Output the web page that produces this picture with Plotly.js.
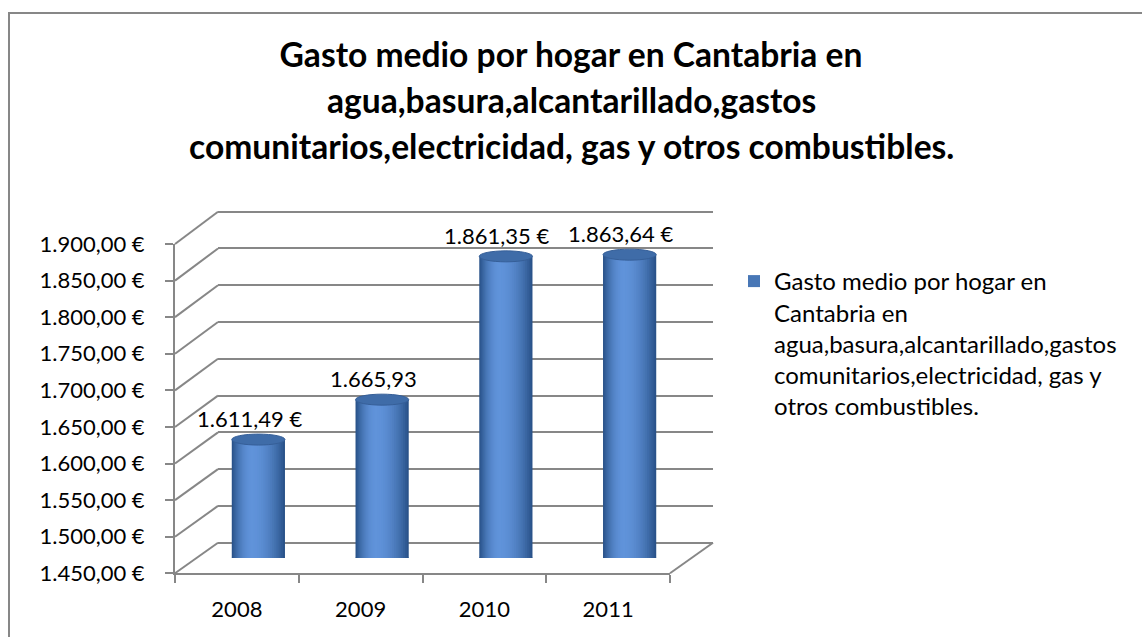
<!DOCTYPE html>
<html>
<head>
<meta charset="utf-8">
<script src="https://cdn.plot.ly/plotly-3.0.1.min.js"></script>
<style>html,body{margin:0;padding:0;background:#fff;}#chart{width:1142px;height:637px;}</style>
</head>
<body>
<div id="chart"></div>
<script>
// ---- data ----
const years = ['2008', '2009', '2010', '2011'];
const gasto = [1611.49, 1665.93, 1861.35, 1863.64];
const dataLabels = ['1.611,49 €', '1.665,93', '1.861,35 €', '1.863,64 €'];
const yTickVals = [1450, 1500, 1550, 1600, 1650, 1700, 1750, 1800, 1850, 1900];
const yTickText = ['1.450,00 €', '1.500,00 €', '1.550,00 €', '1.600,00 €', '1.650,00 €',
                   '1.700,00 €', '1.750,00 €', '1.800,00 €', '1.850,00 €', '1.900,00 €'];
const seriesName = 'Gasto medio por hogar en<br>Cantabria en<br>agua,basura,alcantarillado,gastos<br>comunitarios,electricidad, gas y<br>otros combustibles.';
const titleLines = ['Gasto medio por hogar en Cantabria en',
                    'agua,basura,alcantarillado,gastos',
                    'comunitarios,electricidad, gas y otros combustibles.'];

// ---- geometry (pixels) ----
const W = 1142, H = 637;
const FRONT = {x0: 175, x1: 670, yt: 244, yb: 573.3};
const BACK  = {x0: 218, x1: 713, yt: 211.7, yb: 542.7};
const MID   = {x0: 196.5, x1: 691.5, yt: 228, yb: 558};
const px = v => v / W;
const py = v => 1 - v / H;
const yMin = yTickVals[0], yMax = yTickVals[yTickVals.length - 1];
const FONT = 'Lato, "Open Sans", sans-serif';
const GRID = '#878787';

// ---- cylinder shading built from overlapping bar traces ----
const barW = 0.43, hiPos = 0.38, N = 18;
const edgeC = [42, 83, 138], lightC = [96, 147, 218];
function mix(t) {
  const f = 1 - Math.pow(1 - t, 2);
  const c = edgeC.map((e, i) => Math.round(e + (lightC[i] - e) * f));
  return 'rgb(' + c.join(',') + ')';
}
const left = -barW / 2, right = barW / 2, hi = left + hiPos * barW;
const traces = [];
for (let k = 0; k < N; k++) {
  const t = k / N;
  const L = left + t * (hi - left);
  const R = right - t * (right - hi);
  traces.push({
    type: 'bar', x: years, y: gasto, xaxis: 'x3', yaxis: 'y3',
    offset: L, width: R - L,
    marker: {color: mix(t), line: {width: 0}},
    name: seriesName, showlegend: k === 6, hoverinfo: 'skip'
  });
}

// ---- shapes ----
const shapes = [];
// chart frame
shapes.push({type: 'rect', xref: 'paper', yref: 'paper', x0: px(9), x1: 1.05, y0: -0.05, y1: py(13),
             line: {color: GRID, width: 2}, layer: 'below'});
// side wall diagonals (front tick -> back gridline)
const yf = v => FRONT.yb - (v - yMin) / (yMax - yMin) * (FRONT.yb - FRONT.yt);
const yb = v => BACK.yb - (v - yMin) / (yMax - yMin) * (BACK.yb - BACK.yt);
yTickVals.forEach(v => {
  shapes.push({type: 'line', xref: 'paper', yref: 'paper', x0: px(FRONT.x0), y0: py(yf(v)),
               x1: px(BACK.x0), y1: py(yb(v)), line: {color: GRID, width: 2}});
});
// floor right edge
shapes.push({type: 'line', xref: 'paper', yref: 'paper', x0: px(FRONT.x1), y0: py(FRONT.yb),
             x1: px(BACK.x1), y1: py(BACK.yb), line: {color: GRID, width: 2}});
// cylinder caps
const capHalfW = barW * (MID.x1 - MID.x0) / years.length / 2;
gasto.forEach((v, i) => {
  shapes.push({type: 'circle', xref: 'x3', yref: 'y3', xsizemode: 'pixel', ysizemode: 'pixel',
               xanchor: i, yanchor: v, x0: -capHalfW, x1: capHalfW, y0: -5.5, y1: 5.5,
               fillcolor: '#3f6ca8', line: {color: '#365f98', width: 1}, layer: 'above'});
  shapes.push({type: 'circle', xref: 'x3', yref: 'y3', xsizemode: 'pixel', ysizemode: 'pixel',
               xanchor: i, yanchor: yMin, x0: -capHalfW, x1: capHalfW, y0: -5.5, y1: 5.5,
               fillcolor: '#4575b4', line: {width: 0}, layer: 'below'});
});

// ---- annotations ----
const annotations = gasto.map((v, i) => ({
  xref: 'x3', yref: 'y3', x: i, y: v, text: dataLabels[i], showarrow: false,
  xshift: -9, yshift: 21, font: {family: FONT, size: 22, color: '#000'}
}));
const TITLE_SIZE = 33.6;
[titleLines[1], titleLines[2]].forEach((t, j) => {
  annotations.push({xref: 'paper', yref: 'paper', x: 0.5, y: py(100 + j * 45.5), yanchor: 'middle',
                    text: t, showarrow: false,
                    font: {family: FONT, size: TITLE_SIZE, weight: 'bold', color: '#000'}});
});

const hidden = {showgrid: false, showline: false, zeroline: false, showticklabels: false, ticks: ''};
// widen the back-wall axis a little so its first and last gridlines are drawn
const padU = 6;
const padPx = padU * (BACK.yb - BACK.yt) / (yMax - yMin);

const layout = {
  width: W, height: H,
  margin: {l: 0, r: 0, t: 0, b: 0},
  paper_bgcolor: '#fff', plot_bgcolor: 'rgba(0,0,0,0)',
  barmode: 'overlay',
  title: {text: titleLines[0], x: 0.5, xanchor: 'center', y: py(55), yanchor: 'middle', yref: 'paper',
          font: {family: FONT, size: TITLE_SIZE, weight: 'bold', color: '#000'}},
  showlegend: true,
  legend: {x: px(734), xanchor: 'left', y: py(259), yanchor: 'top', valign: 'top',
           font: {family: FONT, size: 24, color: '#000'}, bgcolor: 'rgba(0,0,0,0)', tracegroupgap: 0},
  // front plane: axis lines, ticks and labels
  xaxis: {domain: [px(FRONT.x0), px(FRONT.x1)], anchor: 'y', type: 'category', categoryarray: years,
          range: [-0.5, years.length - 0.5], showline: true, linecolor: GRID, linewidth: 2,
          ticks: 'outside', ticklen: 8, tickwidth: 2, tickcolor: GRID, tickson: 'boundaries',
          showgrid: false, zeroline: false, ticklabelstandoff: 15,
          tickfont: {family: FONT, size: 22, color: '#000'}},
  yaxis: {domain: [py(FRONT.yb), py(FRONT.yt)], anchor: 'x', range: [yMin, yMax],
          tickvals: yTickVals, ticktext: yTickText, showline: true, linecolor: GRID, linewidth: 2,
          ticks: 'outside', ticklen: 8, tickwidth: 2, tickcolor: GRID, showgrid: false, zeroline: false,
          ticklabelstandoff: 16, tickfont: {family: FONT, size: 22, color: '#000'}},
  // back wall: gridlines
  xaxis2: Object.assign({domain: [px(BACK.x0), px(BACK.x1)], anchor: 'y2', range: [0, 1]}, hidden),
  yaxis2: {domain: [py(BACK.yb + padPx), py(BACK.yt - padPx)], anchor: 'x2',
           range: [yMin - padU, yMax + padU],
           tickvals: yTickVals, showgrid: true, gridcolor: GRID, gridwidth: 2, showline: false,
           zeroline: false, showticklabels: false, ticks: ''},
  // mid depth: cylinders
  xaxis3: Object.assign({domain: [px(MID.x0), px(MID.x1)], anchor: 'y3', type: 'category',
                         categoryarray: years, range: [-0.5, years.length - 0.5]}, hidden),
  yaxis3: Object.assign({domain: [py(MID.yb), py(MID.yt)], anchor: 'x3', range: [yMin, yMax]}, hidden),
  shapes: shapes,
  annotations: annotations
};

// invisible anchor points keep the axis-only subplots alive
traces.unshift({type: 'scatter', x: [0.5], y: [yMin], xaxis: 'x2', yaxis: 'y2', mode: 'markers',
                marker: {opacity: 0}, showlegend: false, hoverinfo: 'skip'});
traces.unshift({type: 'scatter', x: years, y: [yMin, yMin, yMin, yMin], xaxis: 'x', yaxis: 'y', mode: 'markers',
                marker: {opacity: 0}, showlegend: false, hoverinfo: 'skip'});

Plotly.newPlot('chart', traces, layout, {staticPlot: true, displayModeBar: false});
</script>
</body>
</html>
